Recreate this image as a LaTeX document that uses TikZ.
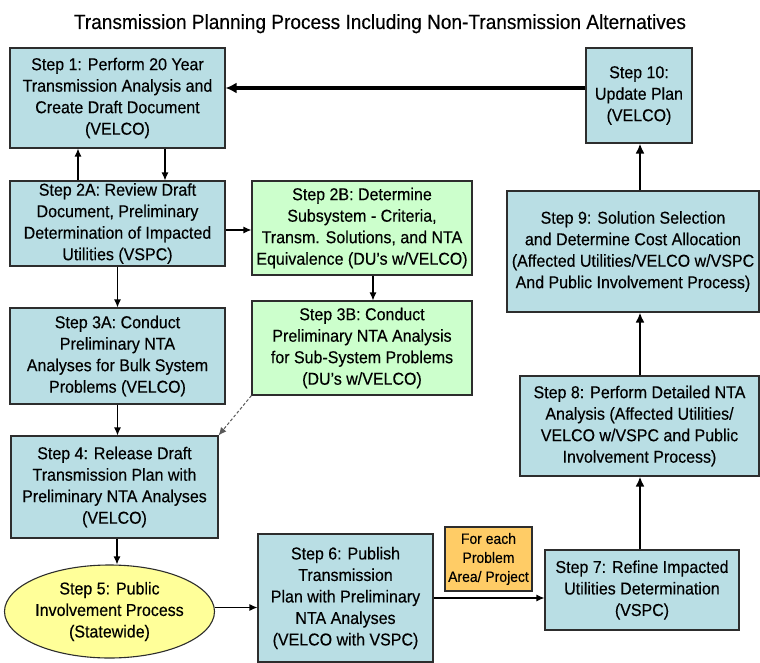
\documentclass[tikz,border=0pt]{standalone}
\usepackage{fontspec}
\setmainfont{Liberation Sans}
\newfontfamily\boxfam[FakeStretch=0.93,FakeBold=0.3]{Liberation Sans}
\usetikzlibrary{arrows.meta,shapes.geometric}
\definecolor{bblue}{RGB}{185,222,228}
\definecolor{bgreen}{RGB}{204,255,204}
\definecolor{byellow}{RGB}{255,255,153}
\definecolor{borange}{RGB}{255,204,102}
\definecolor{bline}{RGB}{45,45,45}
\begin{document}
\begin{tikzpicture}[x=1pt,y=-1pt,
  boxtext/.style={align=center,inner sep=0pt,font=\boxfam\fontsize{17.2}{21.5}\selectfont},
  stepbox/.style={boxtext,draw=bline,line width=1.1pt,fill=bblue},
  greenbox/.style={stepbox,fill=bgreen},
  ovalbox/.style={boxtext,ellipse,draw=bline,line width=1.1pt,fill=byellow},
  notebox/.style={draw=bline,line width=1.1pt,fill=borange,align=center,inner sep=0pt,font=\boxfam\fontsize{15}{19}\selectfont},
  thinarrow/.style={line width=1.2pt,draw=black,-{Latex[length=8pt,width=7pt]}},
  medarrow/.style={line width=2.6pt,draw=black,-{Latex[length=10pt,width=9pt]}},
  bigarrow/.style={line width=3.6pt,draw=black,-{Latex[length=11pt,width=11pt]}},
  dasharrow/.style={line width=1pt,draw=black!65,dash pattern=on 3pt off 2pt,-{Latex[length=8pt,width=7pt]}}
]
\useasboundingbox (0,0) rectangle (760,663);

\node[anchor=base,font=\boxfam\fontsize{20.5}{22}\selectfont] (title) at (380,29) {Transmission Planning Process Including Non-Transmission Alternatives};

\node[stepbox,minimum width=215pt,minimum height=100pt] (s1) at (117.5,98)
  {Step 1: Perform 20 Year\\Transmission Analysis and\\Create Draft Document\\(VELCO)};
\node[stepbox,minimum width=215pt,minimum height=85pt] (s2a) at (117.5,223.5)
  {Step 2A: Review Draft\\Document, Preliminary\\Determination of Impacted\\Utilities (VSPC)};
\node[greenbox,minimum width=220pt,minimum height=94pt] (s2b) at (362,228)
  {Step 2B: Determine\\Subsystem - Criteria,\\Transm. Solutions, and NTA\\Equivalence (DU’s w/VELCO)};
\node[stepbox,minimum width=215pt,minimum height=96pt] (s3a) at (117.5,356)
  {Step 3A: Conduct\\Preliminary NTA\\Analyses for Bulk System\\Problems (VELCO)};
\node[greenbox,minimum width=220pt,minimum height=94pt] (s3b) at (362,348)
  {Step 3B: Conduct\\Preliminary NTA Analysis\\for Sub-System Problems\\(DU’s w/VELCO)};
\node[stepbox,minimum width=207pt,minimum height=102pt] (s4) at (114.5,487)
  {Step 4: Release Draft\\Transmission Plan with\\Preliminary NTA Analyses\\(VELCO)};
\node[ovalbox,minimum width=205pt,minimum height=93pt] (s5) at (109.5,611.5)
  {Step 5: Public\\Involvement Process\\(Statewide)};
\node[stepbox,minimum width=175pt,minimum height=128pt] (s6) at (345.5,598)
  {Step 6: Publish\\Transmission\\Plan with Preliminary\\NTA Analyses\\(VELCO with VSPC)};
\node[notebox,minimum width=87pt,minimum height=64pt] (note) at (488.5,559)
  {For each\\Problem\\Area/ Project};
\node[stepbox,minimum width=194pt,minimum height=80pt] (s7) at (642,590)
  {Step 7: Refine Impacted\\Utilities Determination\\(VSPC)};
\node[stepbox,minimum width=239pt,minimum height=100pt] (s8) at (639.5,426)
  {Step 8: Perform Detailed NTA\\Analysis (Affected Utilities/\\VELCO w/VSPC and Public\\Involvement Process)};
\node[stepbox,minimum width=252pt,minimum height=121pt] (s9) at (633,251.5)
  {Step 9: Solution Selection\\and Determine Cost Allocation\\(Affected Utilities/VELCO w/VSPC\\And Public Involvement Process)};
\node[stepbox,minimum width=106pt,minimum height=95pt] (s10) at (639,95.5)
  {Step 10:\\Update Plan\\(VELCO)};

% connectors
\draw[bigarrow] ([yshift=7.5pt]s10.west) -- ([yshift=7.5pt]s10.west -| s1.east);
\draw[thinarrow] ([xshift=-39.5pt]s2a.north) -- ([xshift=-39.5pt]s2a.north |- s1.south);
\draw[thinarrow] ([xshift=47.5pt]s1.south) -- ([xshift=47.5pt]s1.south |- s2a.north);
\draw[thinarrow] ([yshift=-6.5pt]s2a.east) -- ([yshift=-6.5pt]s2a.east -| s2b.west);
\draw[thinarrow] ([xshift=11pt]s2b.south) -- ([xshift=11pt]s2b.south |- s3b.north);
\draw[thinarrow] (s2a.south) -- (s2a.south |- s3a.north);
\draw[thinarrow] (s3a.south) -- (s3a.south |- s4.north);
\draw[dasharrow] (s3b.south west) -- (s4.north east);
\draw[thinarrow] ([xshift=2.5pt]s4.south) -- ([xshift=2.5pt]s4.south |- s5.north);
\draw[thinarrow] ([yshift=4pt]s5.east) -- ([yshift=4pt]s5.east -| s6.west);
\draw[thinarrow] (s6.east) -- (s6.east -| s7.west);
\draw[medarrow] ([xshift=-2pt]s7.north) -- ([xshift=-2pt]s7.north |- s8.south);
\draw[medarrow] ([xshift=0.5pt]s8.north) -- ([xshift=0.5pt]s8.north |- s9.south);
\draw[medarrow] ([xshift=1pt]s10.south |- s9.north) -- ([xshift=1pt]s10.south);
\end{tikzpicture}
\end{document}
